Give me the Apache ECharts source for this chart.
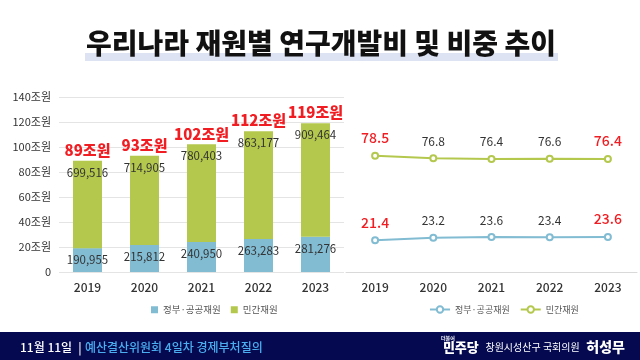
<!DOCTYPE html>
<html><head><meta charset="utf-8">
<script src="https://cdn.jsdelivr.net/npm/echarts@6/dist/echarts.min.js"></script>
<style>
html,body{margin:0;padding:0;background:#fff;overflow:hidden}
#base{position:absolute;left:0;top:0;width:640px;height:360px}
#left{position:absolute;left:0;top:0;width:344px;height:330px}
#right{position:absolute;left:344px;top:0;width:296px;height:330px}
</style>
</head><body>
<div id="base"></div><div id="left"></div><div id="right"></div>
<script>
const years = ['2019','2020','2021','2022','2023'];
const govAmount = [190955, 215812, 240950, 263283, 281276];     // 백만원
const privAmount = [699516, 714905, 780403, 863177, 909464];    // 백만원
const totalLabels = ['89조원','93조원','102조원','112조원','119조원'];
const govShare = [21.4, 23.2, 23.6, 23.4, 23.6];
const privShare = [78.5, 76.8, 76.4, 76.6, 76.4];

const FONT = '"Noto Sans CJK KR", "Noto Sans", sans-serif';
const BLUE = '#82bcd3';
const GREEN = '#b4c84e';
const RED = '#f01e23';
const fmt = v => v.toLocaleString('en-US');
const hiIdx = [0, years.length - 1];

const shareLabel = (params) => hiIdx.includes(params.dataIndex) ? '{r|' + params.value + '}' : '{d|' + params.value + '}';
const shareRich = {
  r: {color: RED, fontSize: 14, fontFamily: FONT, fontWeight: 500},
  d: {color: '#333', fontSize: 12, fontFamily: FONT}
};

// Background: title and footer
echarts.init(document.getElementById('base')).setOption({
  animation: false,
  graphic: [
    {type: 'rect', shape: {x: 85, y: 53, width: 473, height: 8}, style: {fill: '#dee3f3'}, z: 0},
    {type: 'text', x: 321, y: 43, style: {text: '우리나라 재원별 연구개발비 및 비중 추이', font: '900 28px ' + FONT, fill: '#111', align: 'center', verticalAlign: 'middle'}, z: 1},
    {type: 'rect', shape: {x: 0, y: 332, width: 640, height: 28}, style: {fill: '#050a50'}},
    {type: 'text', x: 20, y: 347, style: {
      text: '{w|11월 11일} {w| |} {b|예산결산위원회 4일차 경제부처질의}',
      verticalAlign: 'middle',
      rich: {w: {fill: '#fff', font: '500 12px ' + FONT}, b: {fill: '#4aaef0', font: '500 12px ' + FONT}}
    }},
    {type: 'text', x: 441, y: 336, style: {text: '더불어', font: '700 5px ' + FONT, fill: '#fff'}},
    {type: 'text', x: 625, y: 347, style: {
      text: '{p|민주당}  {n|창원시성산구 국회의원}  {h|허성무}',
      align: 'right', verticalAlign: 'middle',
      rich: {p: {fill: '#fff', font: '900 13px ' + FONT}, n: {fill: '#fff', font: '400 10px ' + FONT}, h: {fill: '#fff', font: '900 14px ' + FONT}}
    }}
  ]
});

// Left: stacked bar chart of amounts
echarts.init(document.getElementById('left')).setOption({
  animation: false,
  textStyle: {fontFamily: FONT},
  legend: {data: ['정부·공공재원', '민간재원'], left: 146, top: 300, itemWidth: 7, itemHeight: 7, itemGap: 10, icon: 'rect',
    textStyle: {fontSize: 9.5, color: '#555', fontFamily: FONT}, selectedMode: false},
  grid: {left: 59, right: 0, top: 97, bottom: 58},
  xAxis: {type: 'category', data: years, axisTick: {show: false}, axisLine: {show: false},
    axisLabel: {color: '#333', fontSize: 12, fontWeight: 500, margin: 9, fontFamily: FONT}},
  yAxis: {type: 'value', min: 0, max: 1400000, interval: 200000,
    axisLabel: {color: '#333', fontSize: 11, margin: 8, fontFamily: FONT,
      formatter: v => v === 0 ? '0' : (v / 10000) + '조원'},
    splitLine: {lineStyle: {color: '#e4e4e4'}}},
  series: [
    {name: '정부·공공재원', type: 'bar', stack: 'amt', data: govAmount, barWidth: 29,
     itemStyle: {color: BLUE},
     label: {show: true, position: 'insideTop', distance: 6, color: '#333', fontSize: 11.5, fontFamily: FONT, formatter: p => fmt(p.value)}},
    {name: '민간재원', type: 'bar', stack: 'amt', data: privAmount, barWidth: 29,
     itemStyle: {color: GREEN},
     label: {show: true, position: 'insideTop', distance: 6, color: '#333', fontSize: 11.5, fontFamily: FONT, formatter: p => fmt(p.value)}},
    {name: 'total', type: 'bar', stack: 'amt', data: years.map(() => 0), barWidth: 29,
     itemStyle: {color: 'transparent'},
     label: {show: true, position: 'top', distance: 3, color: RED, fontSize: 15, fontWeight: 900, fontFamily: FONT,
       formatter: p => totalLabels[p.dataIndex]}}
  ]
});

// Right: share lines
echarts.init(document.getElementById('right')).setOption({
  animation: false,
  textStyle: {fontFamily: FONT},
  legend: {data: ['정부·공공재원', '민간재원'], left: 80, top: 300, itemWidth: 20, itemHeight: 8, itemGap: 10,
    textStyle: {fontSize: 9, color: '#555', fontFamily: FONT}, selectedMode: false},
  grid: {left: 2, right: 3, top: 124, bottom: 58},
  xAxis: {type: 'category', data: years, axisTick: {show: false},
    axisLine: {show: true, lineStyle: {color: '#d9d9d9'}},
    axisLabel: {color: '#333', fontSize: 12, fontWeight: 500, margin: 9, fontFamily: FONT}},
  yAxis: {type: 'value', min: 0, max: 100, show: false},
  series: [
    {name: '정부·공공재원', type: 'line', data: govShare,
     symbol: 'emptyCircle', symbolSize: 6, color: BLUE, lineStyle: {width: 2, color: BLUE},
     itemStyle: {color: BLUE, borderWidth: 1.5},
     label: {show: true, position: 'top', distance: 7, formatter: shareLabel, rich: shareRich}},
    {name: '민간재원', type: 'line', data: privShare,
     symbol: 'emptyCircle', symbolSize: 6, color: GREEN, lineStyle: {width: 2, color: GREEN},
     itemStyle: {color: GREEN, borderWidth: 1.5},
     label: {show: true, position: 'top', distance: 7, formatter: shareLabel, rich: shareRich}}
  ]
});
</script></body></html>
